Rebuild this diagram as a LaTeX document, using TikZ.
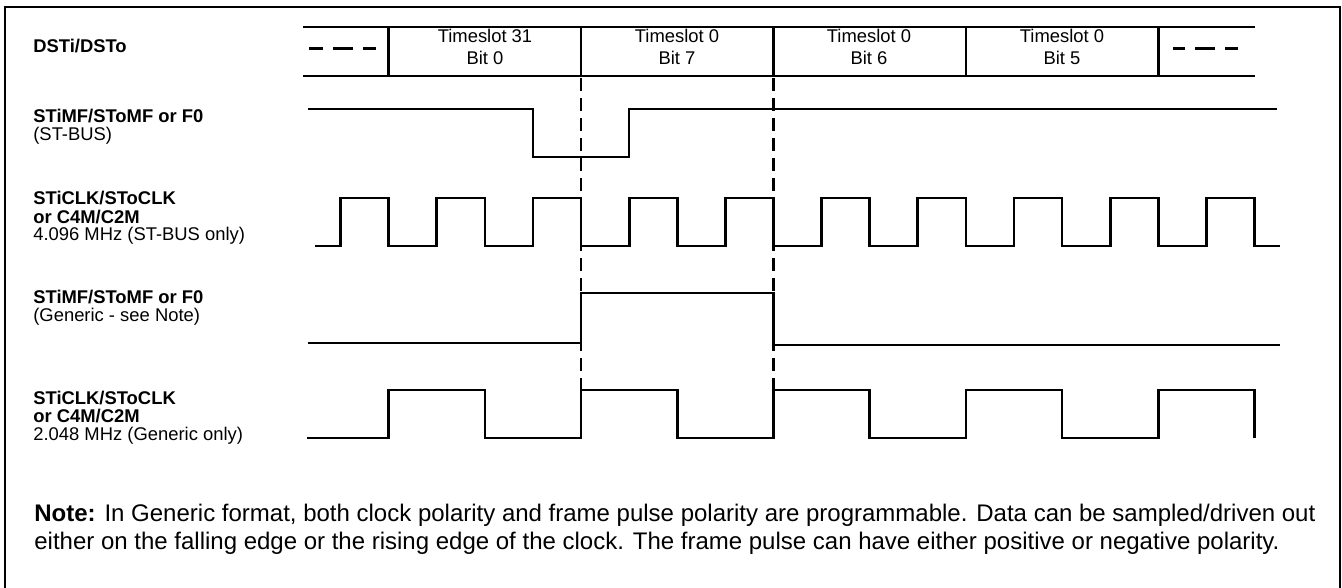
\documentclass[tikz,border=0pt]{standalone}
\usepackage{fontspec}
\setmainfont{Liberation Sans}
\usepackage{tikz}
\usetikzlibrary{positioning}

\begin{document}
\begin{tikzpicture}[x=0.5pt, y=-0.5pt, line width=1.35pt,
    txt/.style={inner sep=0pt, font=\fontsize{9.2}{9.2}\selectfont},
    lbl/.style={txt, anchor=base west},
    slot/.style={txt, anchor=base},
    nota/.style={inner sep=0pt, anchor=base west, font=\fontsize{12}{14}\selectfont},
    guia/.style={dash pattern=on 6.5pt off 3.5pt}]
    \useasboundingbox (0,0) rectangle (1342,588);
    % marco exterior (abierto abajo)
    \draw (5,592) -- (5,7) -- (1340,7) -- (1340,592);
    % etiquetas de las senales
    \node[lbl] (dst) at (32,53) {\bfseries DSTi/DSTo};
    \node[lbl] (fa1) at (32,123) {\bfseries STiMF/SToMF or F0};
    \node[lbl] (fa2) at (32,141) {(ST-BUS)};
    \node[lbl] (ca1) at (32,205) {\bfseries STiCLK/SToCLK};
    \node[lbl] (ca2) at (32,223) {\bfseries or C4M/C2M};
    \node[lbl] (ca3) at (32,241) {4.096 MHz (ST-BUS only)};
    \node[lbl] (fb1) at (32,303) {\bfseries STiMF/SToMF or F0};
    \node[lbl] (fb2) at (32,321) {(Generic - see Note)};
    \node[lbl] (cb1) at (32,404) {\bfseries STiCLK/SToCLK};
    \node[lbl] (cb2) at (32,422) {\bfseries or C4M/C2M};
    \node[lbl] (cb3) at (32,440) {2.048 MHz (Generic only)};
    % flujo de datos: ranuras de tiempo
    \draw (303,27) -- (1255,27);
    \draw (303,76) -- (1255,76);
    \foreach \k in {0,...,4}
        \draw ({388.7+192.4*\k},27) -- ({388.7+192.4*\k},76);
    \draw[line width=1.5pt, dash pattern=on 10pt off 5pt, dash phase=3pt] (309,49) -- (376,49);
    \draw[line width=1.5pt, dash pattern=on 10pt off 5pt, dash phase=4pt] (1173,49) -- (1238,49);
    \node[slot] (s31) at (485,43) {Timeslot 31};  \node[slot] (b0) at (485,65) {Bit 0};
    \node[slot] (s07) at (677,43) {Timeslot 0};   \node[slot] (b7) at (677,65) {Bit 7};
    \node[slot] (s06) at (869,43) {Timeslot 0};   \node[slot] (b6) at (869,65) {Bit 6};
    \node[slot] (s05) at (1062,43) {Timeslot 0};  \node[slot] (b5) at (1062,65) {Bit 5};
    % pulso de trama ST-BUS (activo bajo)
    \draw (308,109) -- (533,109) -- (533,157) -- (629,157) -- (629,109) -- (1277,109);
    % reloj 4.096 MHz
    \draw (315,246) foreach \k in {0,...,9} {
        -- ({340.6+96.2*\k},246) -- ({340.6+96.2*\k},198)
        -- ({388.7+96.2*\k},198) -- ({388.7+96.2*\k},246) } -- (1280,246);
    % pulso de trama generico (activo alto)
    \draw (308,343) -- (581.1,343) -- (581.1,293) -- (773.5,293) -- (773.5,345) -- (1280,345);
    % reloj 2.048 MHz
    \draw (307,438) foreach \k in {0,...,4} {
        -- ({388.7+192.4*\k},438) -- ({388.7+192.4*\k},390)
        -- ({484.9+192.4*\k},390) -- ({484.9+192.4*\k},438) };
    % lineas guia discontinuas
    \draw[guia] (581.1,78) -- (581.1,390);
    \draw[guia] (773.5,78) -- (773.5,390);
    % nota al pie
    \node[nota] (nota1) at (33,521) {\textbf{Note:} In Generic format, both clock polarity and frame pulse polarity are programmable. Data can be sampled/driven out};
    \node[nota] (nota2) at (33,549) {either on the falling edge or the rising edge of the clock. The frame pulse can have either positive or negative polarity.};
\end{tikzpicture}
\end{document}
